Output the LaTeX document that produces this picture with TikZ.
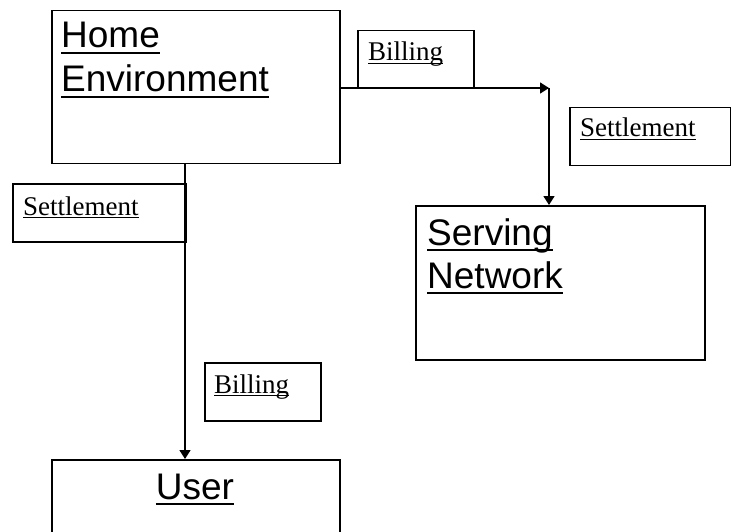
\documentclass[tikz,border=0pt]{standalone}
\usepackage{fontspec}
\setmainfont{Liberation Serif}
\newfontfamily\arialf{Liberation Sans}
\usetikzlibrary{arrows.meta}
\newcommand\myul[3]{\setbox0=\hbox{#3}\rlap{\rule[-#1]{\wd0}{#2}}\box0}
\newcommand\ulbig[1]{\myul{6.4pt}{2.7pt}{#1}}
\newcommand\ulsmall[1]{\myul{3.2pt}{1.5pt}{#1}}
\begin{document}
\begin{tikzpicture}[x=1pt,y=-1pt,
  box/.style={draw, line width=1.5pt, inner sep=0, anchor=north west},
  big/.style={font=\arialf\fontsize{37}{44}\selectfont, anchor=base west, inner sep=0},
  small/.style={font=\fontsize{27}{32}\selectfont, anchor=base west, inner sep=0},
  conn/.style={line width=1.6pt, -{Triangle[length=9pt,width=11pt]}}]
\useasboundingbox (0,0) rectangle (731,532);
\clip (0,0) rectangle (731,532);
% boxes
\node[box, minimum width=288pt, minimum height=153pt] (home) at (51,10) {};
\node[box, minimum width=289pt, minimum height=154pt] (serv) at (415,205) {};
\node[box, minimum width=288pt, minimum height=120pt] (user) at (51,459) {};
\node[box, minimum width=116pt, minimum height=58pt] (bill1) at (357,30) {};
\node[box, minimum width=161pt, minimum height=58pt] (set1) at (569,107) {};
\node[box, minimum width=173pt, minimum height=58pt] (set2) at (12,183) {};
\node[box, minimum width=116pt, minimum height=58pt] (bill2) at (204,362) {};
% texts
\node[big] (th1) at (61,48) {\ulbig{Home}};
\node[big] (th2) at (61,92) {\ulbig{Environment}};
\node[big] (ts1) at (427,245) {\ulbig{Serving}};
\node[big] (ts2) at (427,288) {\ulbig{Network}};
\node[big, anchor=base] (tu) at (195,499) {\ulbig{User}};
\node[small] (tb1) at (368,61) {\ulsmall{Billing}};
\node[small] (ts3) at (580,137) {\ulsmall{Settlement}};
\node[small] (ts4) at (23,215) {\ulsmall{Settlement}};
\node[small] (tb2) at (214,393) {\ulsmall{Billing}};
% connectors
\coordinate (corner) at (549,88);
\coordinate (hx) at (185,0);
\draw[conn] (home.east |- corner) -- (corner);
\draw[conn] (corner) -- (corner |- serv.north);
\draw[conn] (hx |- home.south) -- (hx |- user.north);
\end{tikzpicture}
\end{document}
